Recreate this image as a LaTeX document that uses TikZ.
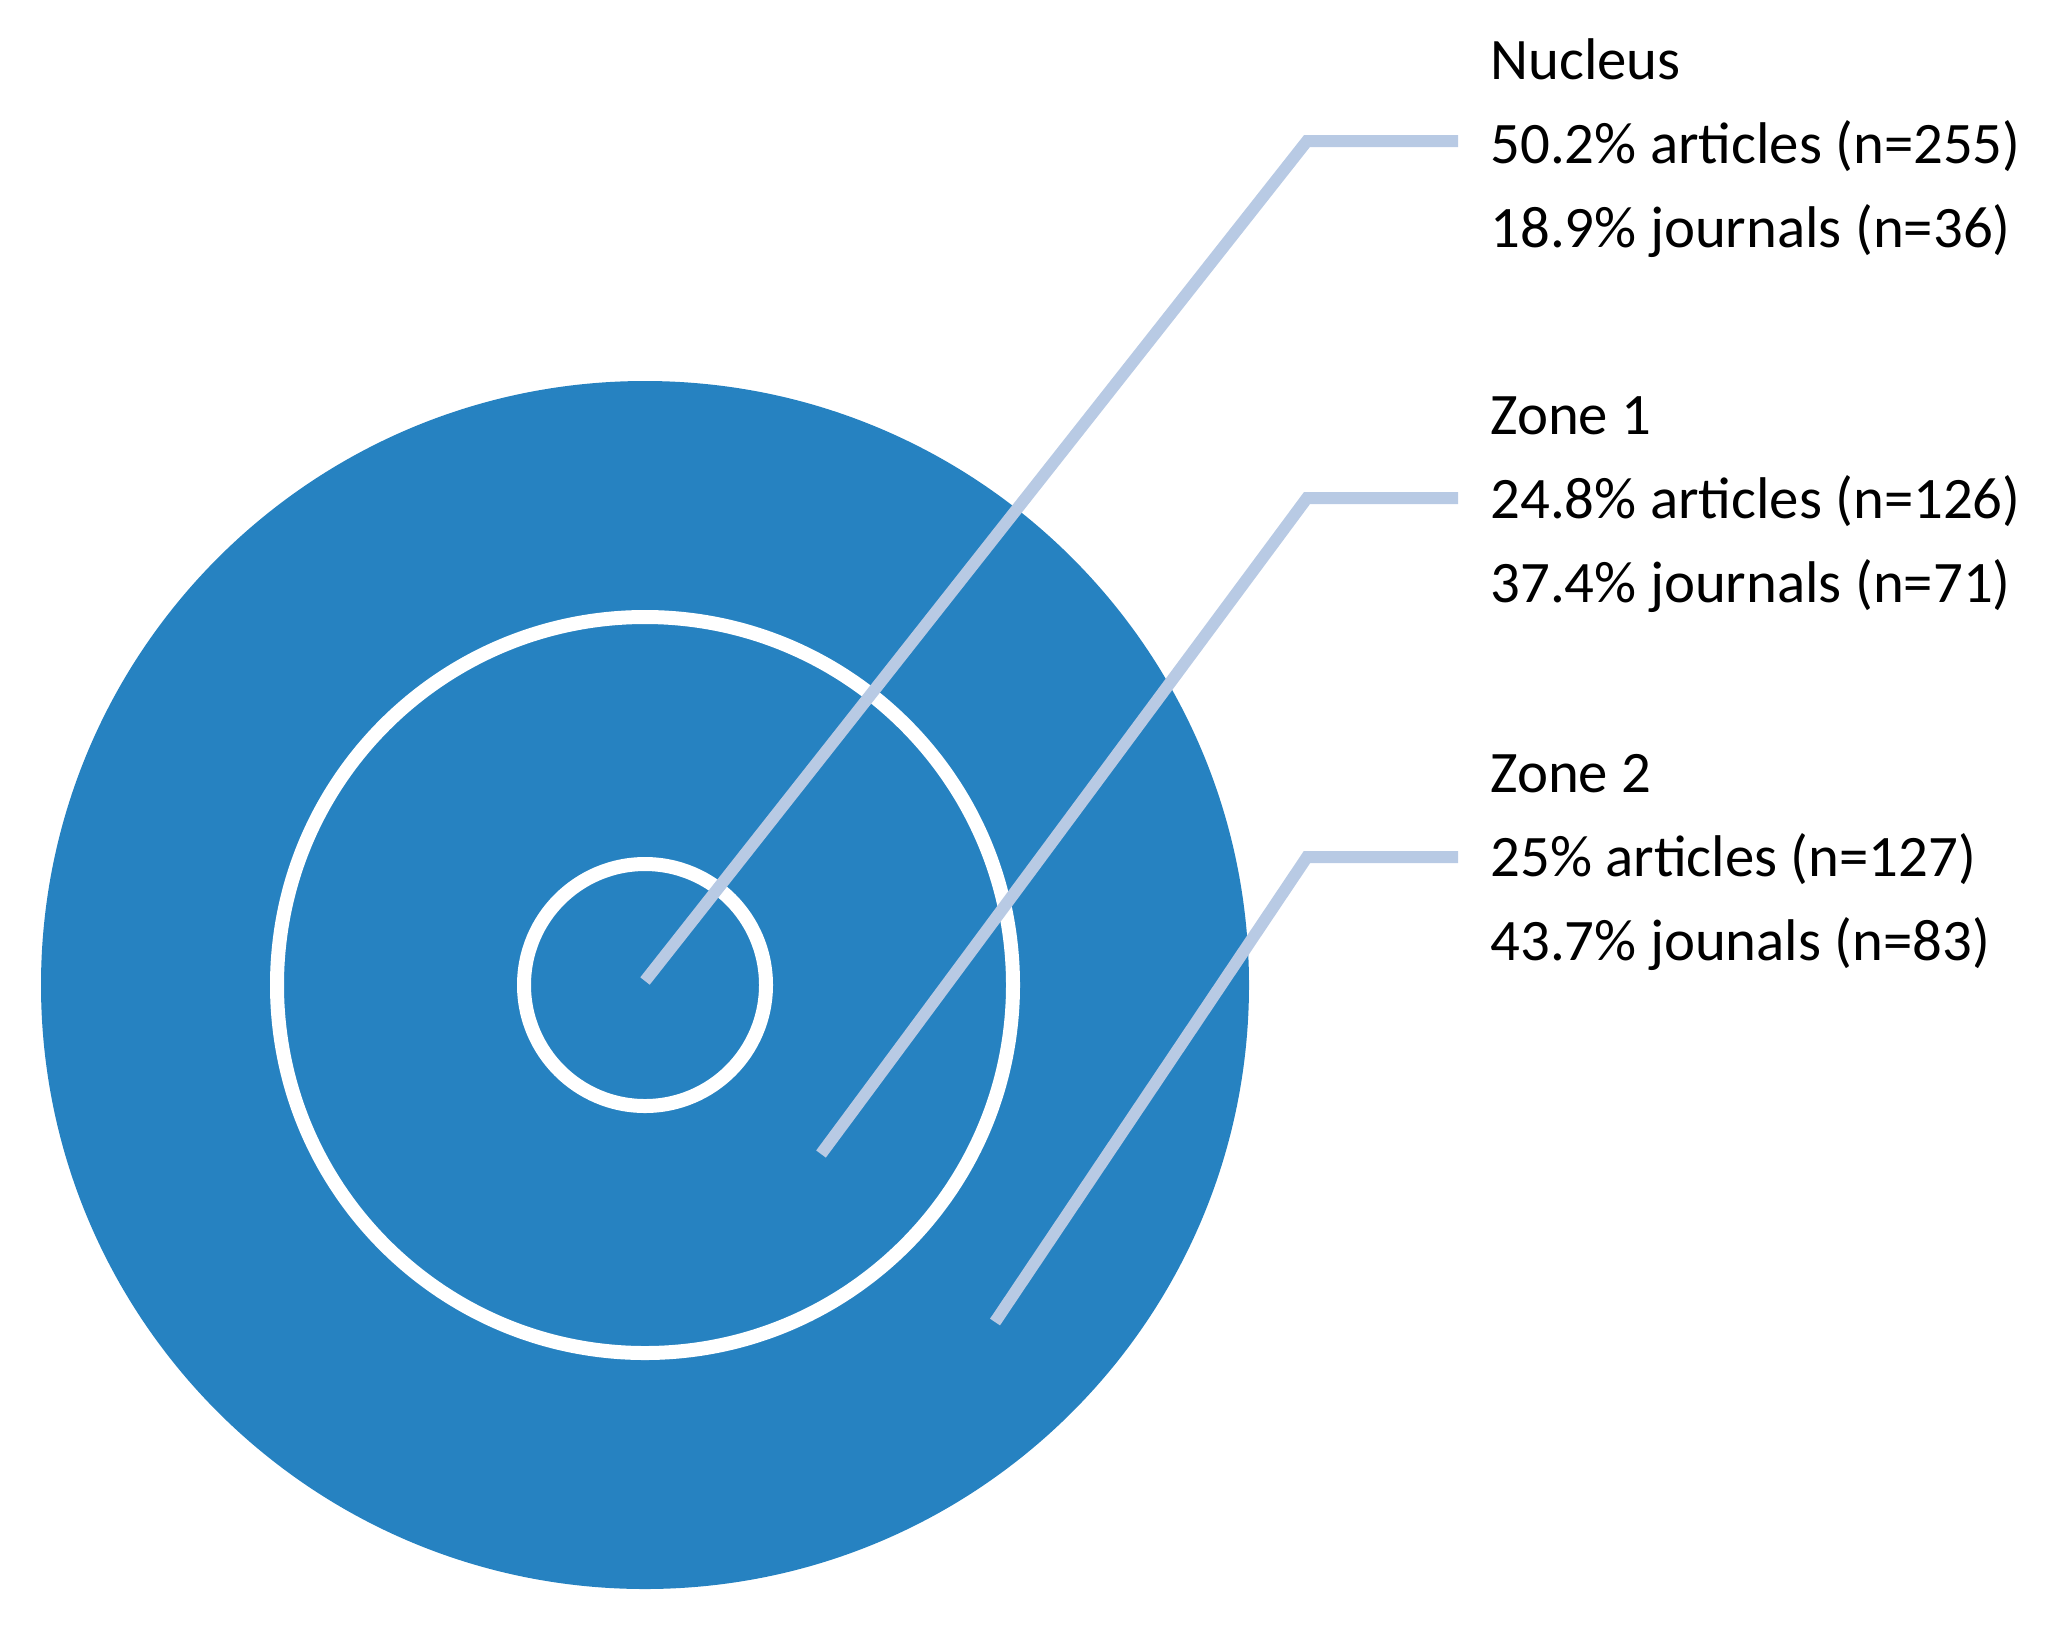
\documentclass[tikz,border=0pt]{standalone}
\usepackage{fontspec}
\setmainfont{Carlito}
\definecolor{disc}{HTML}{2682C1}
\definecolor{leader}{HTML}{B8CAE4}
\begin{document}
\begin{tikzpicture}[x=0.5pt,y=-0.5pt,
  lbl/.style={anchor=base west, inner sep=0pt, font=\fontsize{29.4}{34}\selectfont},
  ring/.style={circle, draw=white, line width=7pt, inner sep=0pt},
  leaderline/.style={draw=leader, line width=6pt, line join=miter}]
\useasboundingbox (0,0) rectangle (2064,1628);
\node[circle, fill=disc, inner sep=0pt, minimum size=604pt] (disc) at (645,985) {};
\node[ring, minimum size=368pt] (zone1ring) at (645,985) {};
\node[ring, minimum size=121pt] (nucring) at (645,985) {};
% labels
\node[lbl] (n1) at (1490,79) {Nucleus};
\node[lbl] (n2) at (1490,163) {50.2\% articles (n=255)};
\node[lbl] (n3) at (1490,247) {18.9\% journals (n=36)};
\node[lbl] (z11) at (1490,434) {Zone 1};
\node[lbl] (z12) at (1490,518) {24.8\% articles (n=126)};
\node[lbl] (z13) at (1490,602) {37.4\% journals (n=71)};
\node[lbl] (z21) at (1490,792) {Zone 2};
\node[lbl] (z22) at (1490,876) {25\% articles (n=127)};
\node[lbl] (z23) at (1490,960) {43.7\% jounals (n=83)};
% leader points
\coordinate (na) at (645,981);
\coordinate (nb) at (1307,141);
\coordinate (nc) at (1458,141);
\coordinate (za) at (821,1154);
\coordinate (zb) at (1307,498);
\coordinate (zc) at (1458,498);
\coordinate (wa) at (995,1322);
\coordinate (wb) at (1307,857);
\coordinate (wc) at (1458,857);
\draw[leaderline] (na) -- (nb) -- (nc);
\draw[leaderline] (za) -- (zb) -- (zc);
\draw[leaderline] (wa) -- (wb) -- (wc);
\end{tikzpicture}
\end{document}
